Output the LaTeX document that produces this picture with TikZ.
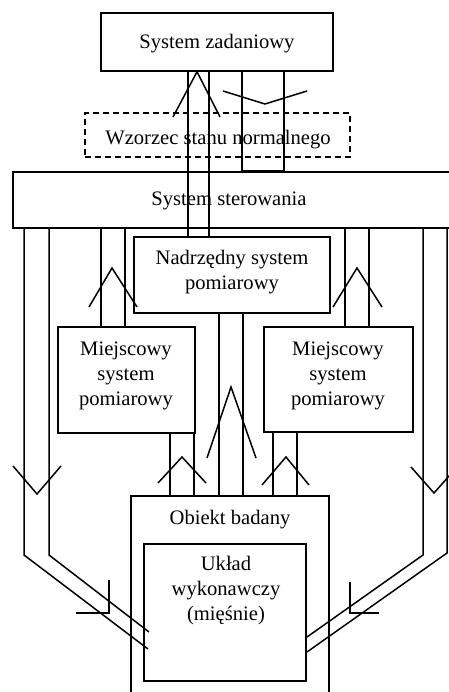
\documentclass[tikz,border=0pt]{standalone}
\usepackage{fontspec}
\setmainfont{Liberation Serif}
\begin{document}
\begin{tikzpicture}[x=1pt,y=-1pt,line width=1.5pt,
  box/.style={draw,inner sep=0pt},
  txt/.style={align=center,inner sep=0pt,font=\fontsize{20.6}{25}\selectfont}]
\useasboundingbox (0,0) rectangle (448,692);
% boxes
\node[box,minimum width=232pt,minimum height=58pt] (zad) at (217,42) {};
\node[box,dashed,dash pattern=on 6pt off 4pt,minimum width=265pt,minimum height=44pt] (wz) at (217.5,135) {};
\node[box,minimum width=447pt,minimum height=56pt] (ster) at (236.5,200) {};
\node[box,minimum width=196pt,minimum height=76pt] (nad) at (232,275) {};
\node[box,minimum width=137pt,minimum height=106pt] (ml) at (126.5,380) {};
\node[box,minimum width=149pt,minimum height=105pt] (mr) at (338.5,379.5) {};
\node[box,minimum width=198pt,minimum height=214pt] (obj) at (230,603) {};
\node[box,minimum width=162pt,minimum height=137pt] (ukl) at (225,612.5) {};
% texts
\node[txt] (zadt) at (217,44) {System zadaniowy};
\node[txt] (wzt) at (218,140) {Wzorzec stanu normalnego};
\node[txt] (stert) at (229,201) {System sterowania};
\node[txt] (nadt) at (232,272) {Nadrzędny system\\pomiarowy};
\node[txt] (mlt) at (126,376) {Miejscowy\\system\\pomiarowy};
\node[txt] (mrt) at (338,376) {Miejscowy\\system\\pomiarowy};
\node[txt] (objt) at (230,520) {Obiekt badany};
\node[txt] (uklt) at (226,591) {Układ\\wykonawczy\\(mięśnie)};
% zadaniowy -> nadrzedny
\draw (zad.south -| 188,0) -- (nad.north -| 188,0);
\draw (zad.south -| 209,0) -- (nad.north -| 209,0);
\draw (173,117) -- (zad.south -| 197,0) -- (220,117);
% loop zadaniowy - sterowanie
\draw (zad.south -| 242,0) -- (ster.north -| 242,0) -- (ster.north -| 284,0) -- (zad.south -| 284,0);
\draw (223,91) -- (265,104) -- (307,91);
% sterowanie -> miejscowe
\draw (ster.south -| 101,0) -- (ml.north -| 101,0);
\draw (ster.south -| 125,0) -- (ml.north -| 125,0);
\draw (89,307) -- (112,268) -- (137,307);
\draw (ster.south -| 345,0) -- (mr.north -| 345,0);
\draw (ster.south -| 369,0) -- (mr.north -| 369,0);
\draw (333,307) -- (357,268) -- (382,307);
% nadrzedny -> obiekt
\draw (nad.south -| 219,0) -- (obj.north -| 219,0);
\draw (nad.south -| 243,0) -- (obj.north -| 243,0);
\draw (207,458) -- (231,387) -- (256,458);
% miejscowe -> obiekt
\draw (ml.south -| 170,0) -- (obj.north -| 170,0);
\draw (ml.south -| 194,0) -- (obj.north -| 194,0);
\draw (158,483) -- (182,457) -- (206,483);
\draw (mr.south -| 273,0) -- (obj.north -| 273,0);
\draw (mr.south -| 297,0) -- (obj.north -| 297,0);
\draw (262,485) -- (286,457) -- (309,485);
% outer left
\coordinate (la) at (148,649);
\coordinate (lb) at (149,632);
\draw (ster.south -| 24,0) -- (24,555) -- (la);
\draw (ster.south -| 49,0) -- (49,555) -- (lb);
\draw (13,466) -- (37,494) -- (61,466);
\draw (109,580) -- (109,613) -- (76,613);
% outer right
\coordinate (ra) at (307,637);
\coordinate (rb) at (307,652);
\draw (ster.south -| 423,0) -- (423,555) -- (ra);
\draw (ster.south -| 447,0) -- (447,553) -- (rb);
\draw (411,467) -- (434,493) -- (457,467);
\draw (350,582) -- (350,613) -- (379,613);
\end{tikzpicture}
\end{document}
